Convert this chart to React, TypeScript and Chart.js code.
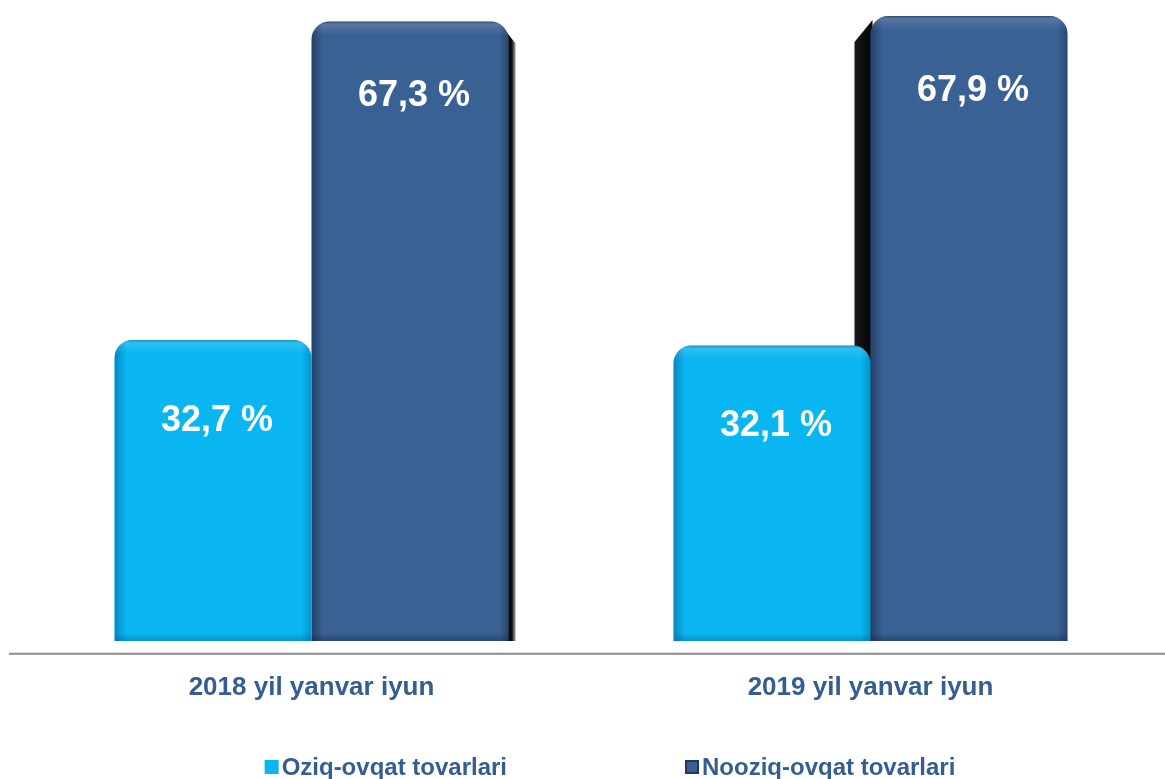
import React, { useEffect, useRef } from "react";
import { Chart, registerables } from "chart.js";

Chart.register(...registerables);

const categories = ["2018 yil yanvar iyun", "2019 yil yanvar iyun"];
const seriesNames = ["Oziq-ovqat tovarlari", "Nooziq-ovqat tovarlari"];
const foodValues = [32.7, 32.1];
const nonFoodValues = [67.3, 67.9];

const LIGHT = "#0AB6F1";
const DARK = "#3A6194";
const TEXT = "#345E92";
const FONT = '"Liberation Sans", Arial, sans-serif';

const fmt = (v: number) => v.toFixed(1).replace(".", ",") + " %";

const shadowPlugin = {
  id: "barShadows",
  beforeDatasetsDraw(chart: any) {
    const ctx = chart.ctx;
    const meta = chart.getDatasetMeta(1);
    meta.data.forEach((bar: any, i: number) => {
      const { x, y, base, width } = bar.getProps(["x", "y", "base", "width"], true);
      const left = x - width / 2;
      const right = x + width / 2;
      ctx.save();
      if (i === 0) {
        const g = ctx.createLinearGradient(right - 4, 0, right + 8, 0);
        g.addColorStop(0, "rgba(0,0,0,1)");
        g.addColorStop(0.6, "rgba(0,0,0,0.95)");
        g.addColorStop(1, "rgba(0,0,0,0.2)");
        ctx.fillStyle = g;
        ctx.beginPath();
        ctx.moveTo(right - 4, y + 8);
        ctx.lineTo(right + 7, y + 22);
        ctx.lineTo(right + 7, base);
        ctx.lineTo(right - 4, base);
        ctx.closePath();
        ctx.fill();
      } else {
        const g = ctx.createLinearGradient(left - 16, 0, left + 4, 0);
        g.addColorStop(0, "rgba(0,0,0,0.9)");
        g.addColorStop(1, "rgba(0,0,0,1)");
        ctx.fillStyle = g;
        ctx.beginPath();
        ctx.moveTo(left - 16, y + 26);
        ctx.lineTo(left + 2, y + 4);
        ctx.lineTo(left + 2, base);
        ctx.lineTo(left - 16, base);
        ctx.closePath();
        ctx.fill();
      }
      ctx.restore();
    });
  },
};

const overlayPlugin = {
  id: "barOverlays",
  afterDatasetsDraw(chart: any) {
    const ctx = chart.ctx;
    const offsets = [81, 75];
    chart.data.datasets.forEach((ds: any, di: number) => {
      const meta = chart.getDatasetMeta(di);
      meta.data.forEach((bar: any, i: number) => {
        const { x, y, base, width } = bar.getProps(["x", "y", "base", "width"], true);
        const left = x - width / 2;
        const h = base - y;
        ctx.save();
        ctx.beginPath();
        ctx.roundRect(left, y, width, h, [18, 18, 0, 0]);
        ctx.clip();
        const edge = di === 0 ? "rgba(0,80,130," : "rgba(10,25,50,";
        let g = ctx.createLinearGradient(left, 0, left + 12, 0);
        g.addColorStop(0, edge + "0.45)");
        g.addColorStop(1, edge + "0)");
        ctx.fillStyle = g;
        ctx.fillRect(left, y, 12, h);
        g = ctx.createLinearGradient(left + width - 10, 0, left + width, 0);
        g.addColorStop(0, edge + "0)");
        g.addColorStop(1, edge + "0.35)");
        ctx.fillStyle = g;
        ctx.fillRect(left + width - 10, y, 10, h);
        g = ctx.createLinearGradient(0, y, 0, y + 14);
        g.addColorStop(0, edge + "0.45)");
        g.addColorStop(0.3, "rgba(255,255,255,0.12)");
        g.addColorStop(1, "rgba(255,255,255,0)");
        ctx.fillStyle = g;
        ctx.fillRect(left, y, width, 14);
        g = ctx.createLinearGradient(0, base - 8, 0, base);
        g.addColorStop(0, edge + "0)");
        g.addColorStop(1, edge + "0.35)");
        ctx.fillStyle = g;
        ctx.fillRect(left, base - 8, width, 8);
        ctx.restore();

        ctx.save();
        ctx.fillStyle = "#FFFFFF";
        ctx.font = `bold 36px ${FONT}`;
        ctx.textAlign = "center";
        ctx.textBaseline = "middle";
        ctx.fillText(fmt(ds.data[i]), x + 4, y + offsets[di]);
        ctx.restore();
      });
    });
  },
};

const axisLegendPlugin = {
  id: "axisLegend",
  afterDraw(chart: any) {
    const ctx = chart.ctx;
    const yScale = chart.scales.y;
    const yAxis = yScale.getPixelForValue(yScale.min);
    ctx.save();
    ctx.strokeStyle = "#8C8C8C";
    ctx.lineWidth = 2;
    ctx.beginPath();
    ctx.moveTo(9, yAxis);
    ctx.lineTo(chart.width, yAxis);
    ctx.stroke();

    ctx.font = `bold 24px ${FONT}`;
    ctx.textBaseline = "middle";
    ctx.textAlign = "left";
    const box = 14;
    const gap = 3;
    const spacing = 178;
    const widths = seriesNames.map((s) => ctx.measureText(s).width);
    const total = widths.reduce((a, w) => a + box + gap + w, 0) + spacing;
    let xPos = 610 - total / 2;
    const yc = chart.height - 12;
    seriesNames.forEach((name, i) => {
      const color = chart.data.datasets[i].backgroundColor;
      ctx.fillStyle = i === 1 ? "#1E3A60" : color;
      ctx.fillRect(xPos, yc - box / 2, box, box);
      ctx.fillStyle = color;
      ctx.fillRect(xPos + 2, yc - box / 2 + 2, box - 4, box - 4);
      xPos += box + gap;
      ctx.fillStyle = TEXT;
      ctx.fillText(name, xPos, yc + 1);
      xPos += widths[i] + spacing;
    });
    ctx.restore();
  },
};

export default function App() {
  const ref = useRef<HTMLCanvasElement>(null);
  useEffect(() => {
    if (!ref.current) return;
    const chart = new Chart(ref.current, {
      type: "bar",
      data: {
        labels: categories,
        datasets: [
          {
            label: seriesNames[0],
            data: foodValues,
            backgroundColor: LIGHT,
            borderRadius: { topLeft: 18, topRight: 18, bottomLeft: 0, bottomRight: 0 },
            borderSkipped: false,
            categoryPercentage: 0.705,
            barPercentage: 1.0,
          },
          {
            label: seriesNames[1],
            data: nonFoodValues,
            backgroundColor: DARK,
            borderRadius: { topLeft: 18, topRight: 18, bottomLeft: 0, bottomRight: 0 },
            borderSkipped: false,
            categoryPercentage: 0.705,
            barPercentage: 1.0,
          },
        ],
      },
      options: {
        animation: false,
        responsive: true,
        maintainAspectRatio: false,
        layout: { padding: { top: 15, left: 32, right: 15, bottom: 58 } },
        plugins: {
          legend: { display: false },
          tooltip: { enabled: false },
        },
        scales: {
          x: {
            grid: { display: false, drawTicks: false, tickLength: 0 },
            border: { display: false },
            ticks: {
              padding: 18,
              color: TEXT,
              font: { family: FONT, size: 26, weight: "bold" },
              maxRotation: 0,
            },
          },
          y: {
            display: false,
            min: -1.4,
            max: 68,
          },
        },
      },
      plugins: [shadowPlugin, overlayPlugin, axisLegendPlugin],
    });
    return () => chart.destroy();
  }, []);
  return (
    <div style={{ position: "absolute", left: 0, top: 0, width: 1165, height: 779, background: "#fff" }}>
      <canvas ref={ref} />
    </div>
  );
}
